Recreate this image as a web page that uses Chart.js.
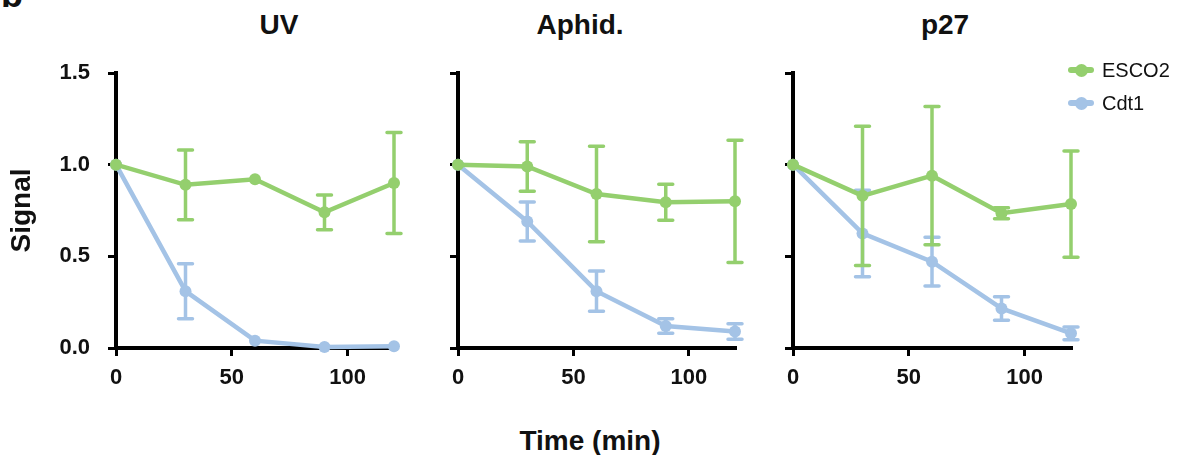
<!DOCTYPE html>
<html>
<head>
<meta charset="utf-8">
<title>ESCO2 / Cdt1 signal over time</title>
<script src="https://cdn.jsdelivr.net/npm/chart.js@4.4.1/dist/chart.umd.min.js"></script>
<style>
  body { margin: 0; background: #fff; width: 1179px; height: 455px; overflow: hidden; position: relative;
         font-family: "Liberation Sans", Arial, Helvetica, sans-serif; color: #111; }
  canvas { position: absolute; top: 0; }
  .panel-title, .axis-title { position: absolute; font-weight: bold; font-size: 28px; line-height: 32px;
         transform: translateX(-50%); white-space: nowrap; }
  .panel-letter { position: absolute; left: 1px; top: -23px; font-weight: bold; font-size: 36px; line-height: 36px; }
  #legend { position: absolute; left: 1068px; top: 57px; font-size: 20px; }
  .legend-item { position: relative; height: 33px; line-height: 26px; padding-left: 34px; }
  .legend-line { position: absolute; left: 0; top: 10px; width: 26px; height: 6px; border-radius: 3px; }
  .legend-dot { position: absolute; left: 6.5px; top: 6.5px; width: 13px; height: 13px; border-radius: 50%; }
</style>
</head>
<body>
<div class="panel-letter">b</div>
<div class="panel-title" style="left:279px; top:9px;">UV</div>
<div class="panel-title" style="left:580px; top:9px;">Aphid.</div>
<div class="panel-title" style="left:945px; top:9px;">p27</div>
<div class="axis-title" style="left:590px; top:425px;">Time (min)</div>

<canvas id="chartUV" width="409" height="455" style="left:0px;"></canvas>
<canvas id="chartAphid" width="330" height="455" style="left:420px;"></canvas>
<canvas id="chartP27" width="326" height="455" style="left:760px;"></canvas>
<div id="legend"></div>

<script>
// Time points (min)
var times = [0, 30, 60, 90, 120];

// UV
var uvEsco2 = [1.0, 0.89, 0.92, 0.74, 0.90];
var uvEsco2Err = [0, 0.19, 0, 0.095, 0.275];
var uvCdt1 = [1.0, 0.31, 0.04, 0.005, 0.01];
var uvCdt1Err = [0, 0.15, 0, 0, 0];

// Aphidicolin
var aphEsco2 = [1.0, 0.99, 0.84, 0.795, 0.80];
var aphEsco2Err = [0, 0.135, 0.26, 0.098, 0.333];
var aphCdt1 = [1.0, 0.69, 0.31, 0.12, 0.09];
var aphCdt1Err = [0, 0.107, 0.11, 0.04, 0.042];

// p27
var p27Esco2 = [1.0, 0.83, 0.94, 0.735, 0.785];
var p27Esco2Err = [0, 0.38, 0.377, 0.03, 0.29];
var p27Cdt1 = [1.0, 0.625, 0.471, 0.216, 0.08];
var p27Cdt1Err = [0, 0.236, 0.133, 0.064, 0.035];

var yTicks = [0, 0.5, 1.0, 1.5];

var GREEN = '#94cf6e';
var BLUE = '#a4c3e6';

Chart.defaults.font.family = '"Liberation Sans", Arial, Helvetica, sans-serif';
Chart.defaults.color = '#111';

// Draw symmetric error bars for each dataset that has an "errors" array
var errorBars = {
    id: 'errorBars',
    afterDatasetDraw: function (chart, args) {
        var ds = chart.data.datasets[args.index];
        if (!ds.errors) return;
        var ctx = chart.ctx;
        var yScale = chart.scales.y;
        ctx.save();
        ctx.strokeStyle = ds.borderColor;
        ctx.lineWidth = 3.5;
        ctx.lineCap = 'round';
        args.meta.data.forEach(function (pt, i) {
            var err = ds.errors[i];
            if (!err) return;
            var v = ds.data[i].y;
            var top = yScale.getPixelForValue(v + err);
            var bot = yScale.getPixelForValue(Math.max(v - err, 0));
            ctx.beginPath();
            ctx.moveTo(pt.x, top); ctx.lineTo(pt.x, bot);
            ctx.moveTo(pt.x - 7, top); ctx.lineTo(pt.x + 7, top);
            ctx.moveTo(pt.x - 7, bot); ctx.lineTo(pt.x + 7, bot);
            ctx.stroke();
        });
        ctx.restore();
    }
};

function toPoints(values) {
    return values.map(function (v, i) { return { x: times[i], y: v }; });
}

function makeDataset(label, values, errors, color) {
    return {
        label: label,
        data: toPoints(values),
        errors: errors,
        borderColor: color,
        backgroundColor: color,
        pointBackgroundColor: color,
        pointBorderColor: color,
        borderWidth: 4.5,
        pointRadius: 6,
        pointBorderWidth: 0,
        tension: 0,
        clip: false
    };
}

// Build one panel; yWidth fixes the left axis box so the plot areas line up
function makePanel(canvasId, esco2, esco2Err, cdt1, cdt1Err, yWidth, showY) {
    var ctx = document.getElementById(canvasId).getContext('2d');
    return new Chart(ctx, {
        type: 'line',
        data: {
            datasets: [
                makeDataset('ESCO2', esco2, esco2Err, GREEN),
                makeDataset('Cdt1', cdt1, cdt1Err, BLUE)
            ]
        },
        options: {
            responsive: false,
            animation: false,
            layout: { padding: { top: 73, bottom: 57, left: 0, right: 15 } },
            plugins: { legend: { display: false }, tooltip: { enabled: false } },
            scales: {
                x: {
                    type: 'linear',
                    min: 0,
                    max: 120,
                    afterFit: function (scale) { scale.height = 50; },
                    ticks: { stepSize: 50, includeBounds: false, padding: 9, color: '#111',
                             font: { size: 22, weight: 'bold' } },
                    grid: { drawOnChartArea: false, drawTicks: true, tickLength: 8, lineWidth: 3, color: '#000' },
                    border: { display: true, width: 4, color: '#000' }
                },
                y: {
                    min: 0,
                    max: 1.5,
                    afterBuildTicks: function (scale) {
                        scale.ticks = yTicks.map(function (v) { return { value: v }; });
                    },
                    afterFit: function (scale) { scale.width = yWidth; },
                    ticks: {
                        padding: 18,
                        color: showY ? '#111' : 'rgba(0,0,0,0)',
                        font: { size: 22, weight: 'bold' },
                        callback: function (v) { return Number(v).toFixed(1); }
                    },
                    title: { display: showY, text: 'Signal', color: '#111',
                             font: { size: 28, weight: 'bold' }, padding: { top: 5, bottom: 0 } },
                    grid: { drawOnChartArea: false, drawTicks: true, tickLength: 8, lineWidth: 3, color: '#000' },
                    border: { display: true, width: 4, color: '#000' }
                }
            }
        },
        plugins: [errorBars]
    });
}

var chartUV = makePanel('chartUV', uvEsco2, uvEsco2Err, uvCdt1, uvCdt1Err, 116, true);
var chartAphid = makePanel('chartAphid', aphEsco2, aphEsco2Err, aphCdt1, aphCdt1Err, 38, false);
var chartP27 = makePanel('chartP27', p27Esco2, p27Esco2Err, p27Cdt1, p27Cdt1Err, 33, false);

// Legend built from the p27 panel's datasets
var legendEl = document.getElementById('legend');
chartP27.data.datasets.forEach(function (ds) {
    var item = document.createElement('div');
    item.className = 'legend-item';
    item.innerHTML = '<span class="legend-line" style="background:' + ds.borderColor + '"></span>' +
                     '<span class="legend-dot" style="background:' + ds.borderColor + '"></span>' + ds.label;
    legendEl.appendChild(item);
});
</script>
</body>
</html>
